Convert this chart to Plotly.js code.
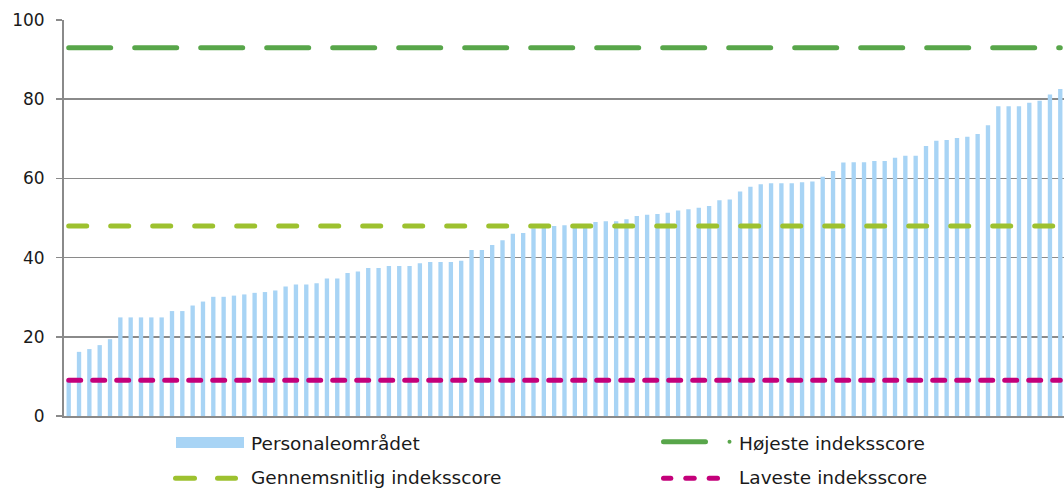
<!DOCTYPE html>
<html>
<head>
<meta charset="utf-8">
<script src="https://cdn.plot.ly/plotly-3.0.1.min.js"></script>
<style>
  html, body { margin: 0; padding: 0; background: #fff; }
  #chart { width: 1064px; height: 488px; }
  .js-line { stroke-linecap: round; }
  .shapelayer path { stroke-linecap: round; }
</style>
</head>
<body>
<div id="chart"></div>
<script>
// ---- Data ----
const personaleomraadet = [
  9.0, 16.2, 16.9, 17.9, 19.4, 24.9, 24.9, 24.9, 24.9, 24.9,
  26.5, 26.5, 27.9, 28.9, 30.1, 30.1, 30.4, 30.7, 31.1, 31.3,
  31.7, 32.7, 33.2, 33.2, 33.5, 34.7, 34.7, 36.1, 36.5, 37.4,
  37.4, 37.9, 37.9, 37.9, 38.6, 38.9, 38.9, 38.9, 39.2, 41.9,
  41.9, 43.2, 44.4, 46.0, 46.2, 47.4, 47.8, 48.0, 48.2, 48.3,
  48.5, 49.0, 49.2, 49.2, 49.7, 50.5, 50.8, 51.0, 51.3, 51.9,
  52.2, 52.6, 53.0, 54.5, 54.7, 56.7, 57.9, 58.5, 58.8, 58.8,
  58.8, 59.0, 59.2, 60.4, 61.9, 64.0, 64.1, 64.1, 64.4, 64.4,
  65.2, 65.7, 65.7, 68.2, 69.5, 69.7, 70.2, 70.5, 71.2, 73.4,
  78.2, 78.2, 78.2, 79.1, 79.6, 81.2, 82.6
];
const categories = personaleomraadet.map((_, i) => i);
const hoejesteIndeksscore = 93;
const gennemsnitligIndeksscore = 48;
const lavesteIndeksscore = 9;
const yTickValues = [0, 20, 40, 60, 80, 100];
const seriesNames = ["Personaleområdet", "Højeste indeksscore", "Gennemsnitlig indeksscore", "Laveste indeksscore"];

// ---- Styles ----
const FONT = "DejaVu Sans, Verdana, sans-serif";
const C_BAR = "#A8D4F5";
const C_HIGH = "#58A64A";
const C_AVG = "#9DC12F";
const C_LOW = "#C4007A";
const C_GRID = "#8A8A8A";
const TXT = "#1a1a1a";

const W = 1064, H = 488;
const M = { l: 64, r: 0, t: 20, b: 72 };
const PW = W - M.l - M.r, PH = H - M.t - M.b;
const px = v => (v - M.l) / PW;
const py = v => (M.t + PH - v) / PH;

const xEnds = [categories[0], categories[categories.length - 1]];

const traces = [
  {
    type: "bar", x: categories, y: personaleomraadet, name: seriesNames[0],
    marker: { color: C_BAR }, width: 0.42, hoverinfo: "y"
  },
  {
    type: "scatter", mode: "lines", x: xEnds, y: [hoejesteIndeksscore, hoejesteIndeksscore],
    name: seriesNames[1], line: { color: C_HIGH, width: 5, dash: "42px,24px" }
  },
  {
    type: "scatter", mode: "lines", x: xEnds, y: [gennemsnitligIndeksscore, gennemsnitligIndeksscore],
    name: seriesNames[2], line: { color: C_AVG, width: 5, dash: "18px,24px" }
  },
  {
    type: "scatter", mode: "lines", x: xEnds, y: [lavesteIndeksscore, lavesteIndeksscore],
    name: seriesNames[3], line: { color: C_LOW, width: 5, dash: "12px,12px" }
  }
];

// ---- Custom legend (keys + labels) ----
function seg(x0, x1, y, color) {
  return { type: "line", xref: "paper", yref: "paper",
    x0: px(x0), x1: px(x1), y0: py(y), y1: py(y),
    line: { color: color, width: 5 } };
}
const shapes = [
  { type: "rect", xref: "paper", yref: "paper",
    x0: px(176), x1: px(244), y0: py(448), y1: py(437),
    fillcolor: C_BAR, line: { width: 0 } },
  seg(663.5, 705.5, 441.7, C_HIGH),
  { type: "circle", xref: "paper", yref: "paper",
    x0: px(727.5), x1: px(731.5), y0: py(443.7), y1: py(439.7),
    fillcolor: C_HIGH, line: { width: 0 } },
  seg(175.5, 194.5, 478.3, C_AVG),
  seg(217.5, 235.5, 478.3, C_AVG),
  seg(663.5, 670.8, 478.3, C_LOW),
  seg(685.8, 694.2, 478.3, C_LOW),
  seg(709.2, 717.5, 478.3, C_LOW)
];
function label(text, x, y) {
  return { xref: "paper", yref: "paper", x: px(x), y: py(y),
    xanchor: "left", yanchor: "middle", showarrow: false, text: text,
    font: { family: FONT, size: 18.5, color: TXT }, borderpad: 0 };
}
const annotations = [
  label(seriesNames[0], 250, 443.3),
  label(seriesNames[1], 738, 443.3),
  label(seriesNames[2], 250, 477.5),
  label(seriesNames[3], 738, 477.5)
];

const layout = {
  width: W, height: H,
  margin: M,
  paper_bgcolor: "#ffffff", plot_bgcolor: "#ffffff",
  showlegend: false,
  font: { family: FONT, size: 17, color: TXT },
  xaxis: {
    range: [-0.455, 96.36], showgrid: false, zeroline: false,
    showticklabels: false, ticks: "",
    showline: true, linecolor: C_GRID, linewidth: 2, fixedrange: true
  },
  yaxis: {
    range: [0, 100], tickvals: yTickValues, ticktext: yTickValues.map(String),
    showgrid: true, gridcolor: C_GRID, gridwidth: 1.6, zeroline: false,
    showline: true, linecolor: C_GRID, linewidth: 2,
    ticks: "outside", ticklen: 6, tickwidth: 1.6, tickcolor: C_GRID,
    ticklabelstandoff: 8,
    tickfont: { family: FONT, size: 17, color: TXT }, fixedrange: true
  },
  shapes: shapes,
  annotations: annotations
};

Plotly.newPlot("chart", traces, layout, { displayModeBar: false, staticPlot: true });
</script>
</body>
</html>
